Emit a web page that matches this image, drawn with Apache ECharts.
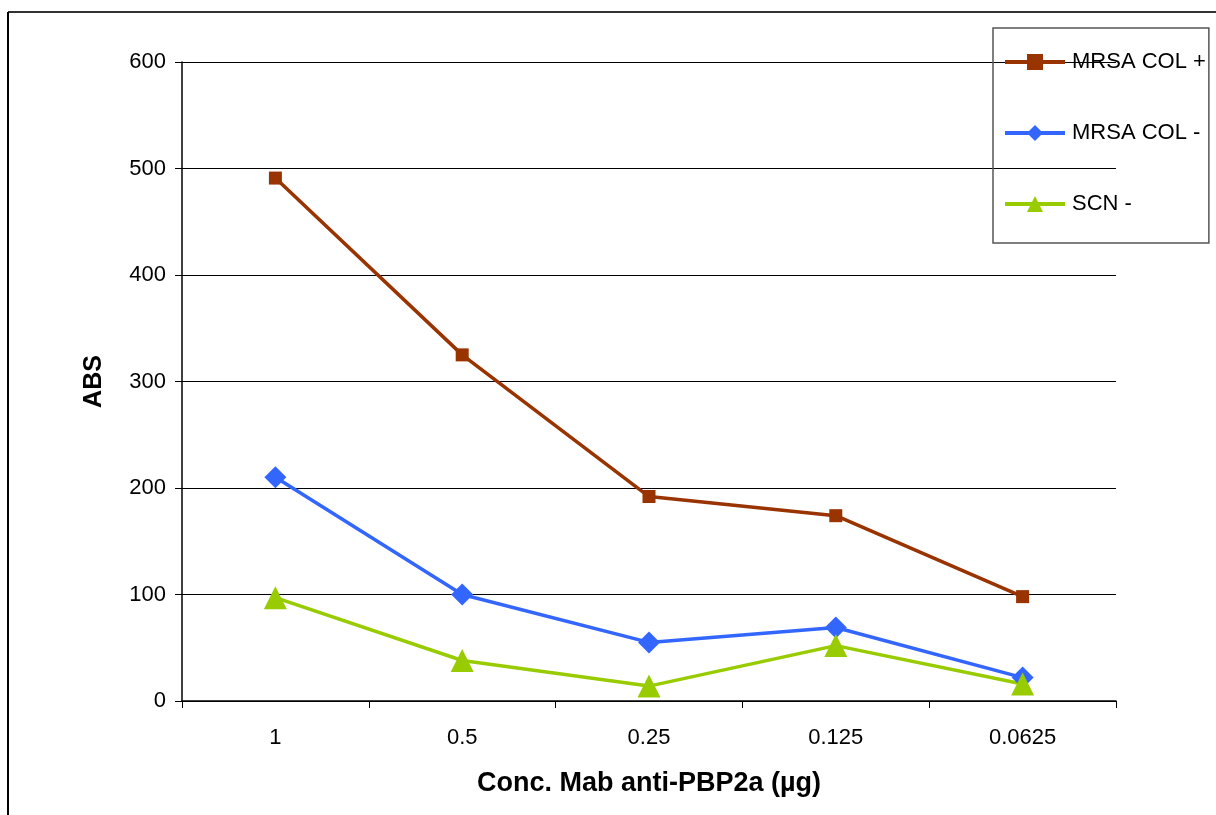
<!DOCTYPE html>
<html>
<head>
<meta charset="utf-8">
<script src="https://cdn.jsdelivr.net/npm/echarts@6/dist/echarts.min.js"></script>
<style>html,body{margin:0;padding:0;background:#fff;}#c{width:1216px;height:815px;}</style>
</head>
<body>
<div id="c"></div>
<script>
var categories = ['1', '0.5', '0.25', '0.125', '0.0625'];
var mrsaColPlus = [491, 325, 192, 174, 98];
var mrsaColMinus = [210, 100, 55, 69, 22];
var scnMinus = [97, 38, 14, 52, 16];
var yTicks = [0, 100, 200, 300, 400, 500, 600];

var font = '"Liberation Sans", Arial, sans-serif';
var chart = echarts.init(document.getElementById('c'));
chart.setOption({
  backgroundColor: '#fff',
  animation: false,
  grid: { left: 182, right: 100, top: 62, bottom: 114 },
  graphic: [
    { type: 'line', shape: { x1: 8, y1: 12, x2: 1216, y2: 12 }, style: { stroke: '#333', lineWidth: 2 } },
    { type: 'line', shape: { x1: 8, y1: 12, x2: 8, y2: 815 }, style: { stroke: '#000', lineWidth: 2 } }
  ],
  legend: {
    orient: 'vertical',
    left: 993, top: 28,
    padding: [23, 3, 28, 10],
    itemGap: 49,
    itemWidth: 60, itemHeight: 20,
    borderColor: '#555', borderWidth: 1.5,
    lineStyle: { width: 4 },
    textStyle: { fontFamily: font, fontSize: 22, color: '#000', padding: [0, 0, 0, 2] },
    data: ['MRSA COL +', 'MRSA COL -', 'SCN -']
  },
  xAxis: {
    type: 'category',
    data: categories,
    boundaryGap: true,
    name: 'Conc. Mab anti-PBP2a (µg)',
    nameLocation: 'middle',
    nameGap: 69,
    nameTextStyle: { fontFamily: font, fontSize: 27, fontWeight: 'bold', color: '#000' },
    axisLine: { lineStyle: { color: '#000', width: 1.5 } },
    axisTick: { show: true, length: 7, alignWithLabel: false, lineStyle: { color: '#000' } },
    axisLabel: { fontFamily: font, fontSize: 22, color: '#000', margin: 26 }
  },
  yAxis: {
    type: 'value',
    min: 0, max: 600, interval: 100,
    name: 'ABS',
    nameLocation: 'middle',
    nameGap: 75,
    nameRotate: 90,
    nameTextStyle: { fontFamily: font, fontSize: 25, fontWeight: 'bold', color: '#000' },
    axisLine: { show: true, lineStyle: { color: '#000', width: 1.5 } },
    axisTick: { show: true, length: 7, lineStyle: { color: '#000' } },
    axisLabel: { fontFamily: font, fontSize: 22, color: '#000', margin: 16,
      formatter: function (v) { return yTicks.indexOf(v) >= 0 ? String(v) : ''; } },
    splitLine: { show: true, lineStyle: { color: '#000', width: 1 } }
  },
  series: [
    { name: 'MRSA COL +', type: 'line', data: mrsaColPlus, symbol: 'rect', symbolSize: 13,
      lineStyle: { color: '#993300', width: 3.5 }, itemStyle: { color: '#993300' } },
    { name: 'MRSA COL -', type: 'line', data: mrsaColMinus, symbol: 'diamond', symbolSize: 22,
      lineStyle: { color: '#3366FF', width: 3.5 }, itemStyle: { color: '#3366FF' } },
    { name: 'SCN -', type: 'line', data: scnMinus, symbol: 'triangle', symbolSize: 23,
      lineStyle: { color: '#99CC00', width: 3.5 }, itemStyle: { color: '#99CC00' } }
  ]
});
</script>
</body>
</html>
